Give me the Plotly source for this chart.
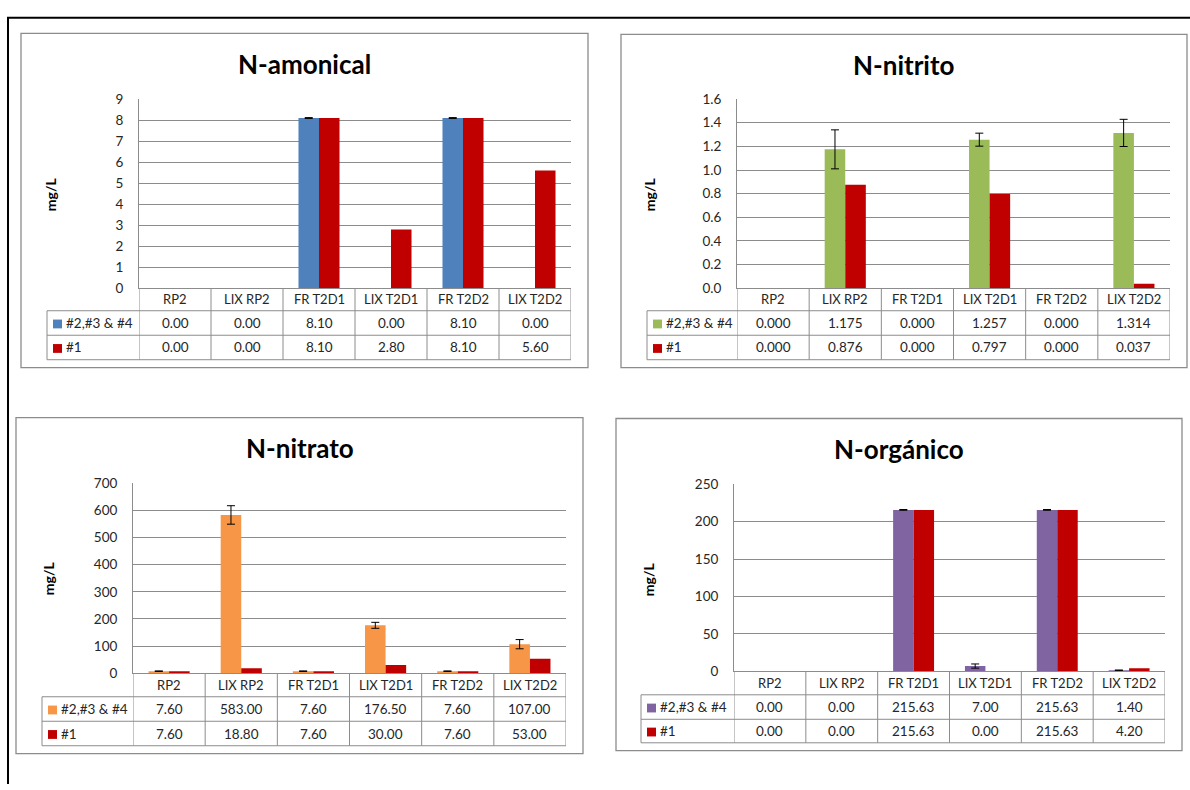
import plotly.graph_objects as go

W, H = 1190, 790

categories = ["RP2", "LIX RP2", "FR T2D1", "LIX T2D1", "FR T2D2", "LIX T2D2"]
series_names = ["#2,#3 & #4", "#1"]

# N-amonical
amon_a = [0.00, 0.00, 8.10, 0.00, 8.10, 0.00]
amon_b = [0.00, 0.00, 8.10, 2.80, 8.10, 5.60]
amon_err = [0, 0, 0.02, 0, 0.02, 0]

# N-nitrito
nitri_a = [0.000, 1.175, 0.000, 1.257, 0.000, 1.314]
nitri_b = [0.000, 0.876, 0.000, 0.797, 0.000, 0.037]
nitri_err = [0, 0.165, 0, 0.055, 0, 0.115]

# N-nitrato
nitra_a = [7.60, 583.00, 7.60, 176.50, 7.60, 107.00]
nitra_b = [7.60, 18.80, 7.60, 30.00, 7.60, 53.00]
nitra_err = [1.0, 34.0, 1.0, 11.0, 1.0, 17.0]

# N-orgánico
org_a = [0.00, 0.00, 215.63, 7.00, 215.63, 1.40]
org_b = [0.00, 0.00, 215.63, 0.00, 215.63, 4.20]
org_err = [0, 0, 0.5, 2.8, 0.5, 0.3]

RED = "#C00000"
FONT = "Lato"
GRID = "#8C8C8C"
TXT = "#262626"


def fx(px):
    return px / W


def fy(py):
    return 1 - py / H


def nz(vals):
    # zero-height bars are simply not drawn
    return [v if v != 0 else None for v in vals]


charts = [
    dict(title="N-amonical", a=amon_a, b=amon_b, err=amon_err, color="#4F81BD",
         yrange=[0, 9], dtick=1, fmt=".2f", tickfmt="d",
         box=(21, 26, 588, 367), plot=(139, 93, 571, 286), rows=(286, 309, 334, 359), tleft=47,
         ylab=(50, 190)),
    dict(title="N-nitrito", a=nitri_a, b=nitri_b, err=nitri_err, color="#9BBB59",
         yrange=[0, 1.6], dtick=0.2, fmt=".3f", tickfmt=".1f",
         box=(621, 27, 1187, 367), plot=(737, 93, 1170, 286), rows=(286, 309, 334, 359), tleft=647,
         ylab=(649, 190)),
    dict(title="N-nitrato", a=nitra_a, b=nitra_b, err=nitra_err, color="#F79646",
         yrange=[0, 700], dtick=100, fmt=".2f", tickfmt="d",
         box=(16, 418, 583, 761), plot=(133, 485, 566, 679), rows=(679, 703, 728, 753), tleft=42,
         ylab=(48, 582)),
    dict(title="N-orgánico", a=org_a, b=org_b, err=org_err, color="#8064A2",
         yrange=[0, 250], dtick=50, fmt=".2f", tickfmt="d",
         box=(616, 419, 1182, 758), plot=(734, 486, 1165, 677), rows=(677, 701, 726, 750), tleft=641,
         ylab=(648, 583)),
]

fig = go.Figure()
shapes = []
annotations = []

# outer black frame (left and top lines)
shapes.append(dict(type="line", xref="paper", yref="paper", x0=fx(8), x1=fx(8), y0=fy(10), y1=fy(792),
                   line=dict(color="black", width=2)))
shapes.append(dict(type="line", xref="paper", yref="paper", x0=fx(7), x1=fx(1192), y0=fy(10), y1=fy(10),
                   line=dict(color="black", width=2)))

for i, c in enumerate(charts, start=1):
    xa = "x" if i == 1 else f"x{i}"
    ya = "y" if i == 1 else f"y{i}"
    fig.add_trace(go.Bar(x=categories, y=nz(c["a"]), name=series_names[0], marker_color=c["color"],
                         marker_line_width=0, xaxis=xa, yaxis=ya, showlegend=False,
                         error_y=dict(type="data", array=c["err"], color="black", thickness=1, width=4)))
    fig.add_trace(go.Bar(x=categories, y=nz(c["b"]), name=series_names[1], marker_color=RED,
                         marker_line_width=0, xaxis=xa, yaxis=ya, showlegend=False))

    px0, py0, px1, py1 = c["plot"]
    xkey = "xaxis" if i == 1 else f"xaxis{i}"
    ykey = "yaxis" if i == 1 else f"yaxis{i}"
    fig.layout[xkey] = dict(domain=[fx(px0), fx(px1)], anchor=ya, type="category",
                            range=[-0.5, 5.5], showticklabels=False, showgrid=False,
                            zeroline=False, showline=True, linecolor=GRID, linewidth=1, fixedrange=True)
    fig.layout[ykey] = dict(domain=[fy(py1), fy(py0)], anchor=xa, range=c["yrange"], dtick=c["dtick"],
                            tickformat=c["tickfmt"], showgrid=True, gridcolor=GRID, gridwidth=1,
                            zeroline=False, showline=True, linecolor=GRID, linewidth=1,
                            ticks="", ticklabelstandoff=12,
                            tickfont=dict(family=FONT, size=13.5, color=TXT), fixedrange=True)

    # chart box
    bx0, by0, bx1, by1 = c["box"]
    shapes.append(dict(type="rect", xref="paper", yref="paper", x0=fx(bx0), x1=fx(bx1), y0=fy(by1), y1=fy(by0),
                       line=dict(color="#8C8C8C", width=1.3), fillcolor="rgba(0,0,0,0)", layer="below"))

    # title
    annotations.append(dict(text=f"<b>{c['title']}</b>", x=fx((bx0 + bx1) / 2), y=fy(by0 + 31),
                            xref="paper", yref="paper", showarrow=False, xanchor="center", yanchor="middle",
                            font=dict(family=FONT, size=26, color="black")))
    # y-axis title
    annotations.append(dict(text="<b>mg/L</b>", x=fx(c["ylab"][0]), y=fy(c["ylab"][1]), xref="paper",
                            yref="paper", showarrow=False, textangle=-90, xanchor="center", yanchor="middle",
                            font=dict(family=FONT, size=14, color="black")))

    # ---- data table drawn on the category axis ----
    r0, r1, r2, r3 = c["rows"]
    tleft = c["tleft"]
    n = len(categories)
    # vertical separators at category boundaries
    for k in range(n + 1):
        shapes.append(dict(type="line", xref=xa, yref="paper", x0=k - 0.5, x1=k - 0.5,
                           y0=fy(r3), y1=fy(r0), line=dict(color=GRID, width=1)))
    # legend column left edge
    shapes.append(dict(type="line", xref="paper", yref="paper", x0=fx(tleft), x1=fx(tleft),
                       y0=fy(r3), y1=fy(r1), line=dict(color=GRID, width=1)))
    # horizontal row lines
    for ry in (r1, r2, r3):
        shapes.append(dict(type="line", xref="paper", yref="paper", x0=fx(tleft), x1=fx(px1),
                           y0=fy(ry), y1=fy(ry), line=dict(color=GRID, width=1)))

    # header labels
    for cat in categories:
        annotations.append(dict(text=cat, x=cat, xref=xa, y=fy((r0 + r1) / 2), yref="paper",
                                showarrow=False, xanchor="center", yanchor="middle",
                                font=dict(family=FONT, size=13, color=TXT)))
    # series rows
    for vals, (ya_, yb_), sname, scol in ((c["a"], (r1, r2), series_names[0], c["color"]),
                                          (c["b"], (r2, r3), series_names[1], RED)):
        yc = (ya_ + yb_) / 2
        for cat, v in zip(categories, vals):
            annotations.append(dict(text=format(v, c["fmt"]), x=cat, xref=xa, y=fy(yc), yref="paper",
                                    showarrow=False, xanchor="center", yanchor="middle",
                                    font=dict(family=FONT, size=13.5, color=TXT)))
        # legend key
        shapes.append(dict(type="rect", xref="paper", yref="paper", x0=fx(tleft + 6), x1=fx(tleft + 15),
                           y0=fy(yc + 5.5), y1=fy(yc - 3.5), line=dict(width=0), fillcolor=scol))
        annotations.append(dict(text=sname, x=fx(tleft + 17), xref="paper", y=fy(yc), yref="paper",
                                showarrow=False, xanchor="left", yanchor="middle",
                                font=dict(family=FONT, size=13.5, color=TXT)))

fig.update_layout(
    width=W, height=H, margin=dict(l=0, r=0, t=0, b=0),
    paper_bgcolor="white", plot_bgcolor="white",
    barmode="group", bargap=0.43, bargroupgap=0,
    shapes=shapes, annotations=annotations, showlegend=False,
    font=dict(family=FONT),
)

fig.write_html("out.html", config={"displayModeBar": False},
               post_script="document.body.style.margin='0px';document.body.style.overflow='hidden';")
